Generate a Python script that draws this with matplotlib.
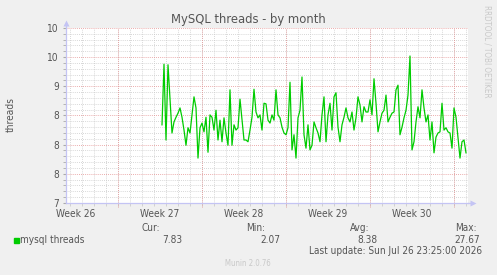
import numpy as np
import matplotlib.pyplot as plt
from matplotlib.ticker import MultipleLocator, FixedLocator

plt.rcParams["font.family"] = "DejaVu Sans"
plt.rcParams["font.stretch"] = "condensed"

# days are counted from the start of week 27
weeks = ["Week 26", "Week 27", "Week 28", "Week 29", "Week 30"]
week_mid = [-3.5, 3.5, 10.5, 17.5, 24.5]
week_start = [0, 7, 14, 21, 28]
y_ticks = [7, 7.5, 8, 8.5, 9, 9.5, 10]
y_labels = ["7", "8", "8", "8", "9", "10", "10"]

threads = [
    8.34, 9.38, 8.08, 9.37, 8.77, 8.20, 8.39, 8.47, 8.54, 8.63, 8.47, 8.25,
    7.99, 8.29, 8.20, 8.51, 8.82, 8.63, 7.77, 8.29, 8.37, 8.22, 8.47, 7.87,
    8.51, 8.47, 8.25, 8.59, 8.08, 8.42, 8.05, 8.46, 8.20, 7.99, 8.94, 7.99,
    8.34,
    8.25, 8.29, 8.78, 8.42, 8.08, 8.08, 8.05, 8.25, 8.47, 8.95, 8.56, 8.46,
    8.51, 8.25, 8.71, 8.70, 8.42, 8.37, 8.51, 8.42, 8.94, 8.51, 8.46, 8.30,
    8.20, 8.17, 8.29, 9.07, 7.91, 8.17, 7.77, 8.46, 8.59, 9.16, 8.17, 7.94,
    8.34,
    7.91, 7.99, 8.39, 8.29, 8.20, 8.05, 8.51, 8.82, 8.05, 8.51, 8.71, 8.25,
    8.82, 8.89, 8.30, 8.05, 8.34, 8.47, 8.63, 8.46, 8.39, 8.56, 8.25, 8.46,
    8.82, 8.68, 8.39, 8.65, 8.56, 8.56, 8.77, 8.51, 9.13, 8.71, 8.22, 8.39,
    8.54, 8.59,
    8.85, 8.39, 8.47, 8.54, 8.56, 8.94, 9.02, 8.17, 8.30, 8.46, 8.59, 8.85,
    9.52, 7.91, 8.05, 8.39, 8.65, 8.46, 8.94, 8.63, 8.39, 8.51, 8.08, 8.39,
    7.86, 8.13, 8.20, 8.22, 8.71, 8.25, 8.29, 8.22, 8.20, 7.94, 8.63, 8.47,
    8.11, 7.77, 8.05, 8.08, 7.86,
]
t_first = 3.67      # first sample, days
t_step = 1 / 6      # one sample every 4 hours

stat_names = ["Cur:", "Min:", "Avg:", "Max:"]
stat_values = ["7.83", "2.07", "8.38", "27.67"]

W, H = 497, 275
txt = "#555555"
fig = plt.figure(figsize=(W / 100, H / 100), dpi=100, facecolor="#F0F0F0")
ax = fig.add_axes([66 / W, 1 - 203 / H, (468 - 66) / W, (203 - 28) / H])
ax.set_facecolor("white")

t = t_first + t_step * np.arange(len(threads))
ax.plot(t, threads, color="#00CC00", lw=0.9, zorder=3)

ax.set_xlim(-4.33, 29.17)
ax.set_ylim(7, 10)

ax.yaxis.set_major_locator(FixedLocator(y_ticks))
ax.set_yticklabels(y_labels)
ax.yaxis.set_minor_locator(MultipleLocator(0.1))
ax.set_xticks(week_mid, weeks)
ax.xaxis.set_minor_locator(MultipleLocator(1))

dots = (0, (1, 1.5))
ax.grid(which="minor", color="#CACACA", linestyle=dots, lw=0.6)
ax.grid(axis="y", which="major", color="#E49090", linestyle=dots, lw=0.6)
for w in week_start:
    ax.axvline(w, ymin=-0.02, ymax=1, color="#E49090", linestyle=dots, lw=0.6, clip_on=False)

for s in ["top", "right"]:
    ax.spines[s].set_visible(False)
for s in ["left", "bottom"]:
    ax.spines[s].set_color("#C4C4F4")
    ax.spines[s].set_linewidth(0.9)
ax.plot([0, 0], [1, 1.025], color="#C4C4F4", lw=0.9, transform=ax.transAxes, clip_on=False)
ax.plot(0, 1.03, marker="^", ms=4, color="#C4C4F4", mec="none", transform=ax.transAxes, clip_on=False)
ax.plot([1, 1.008], [0, 0], color="#C4C4F4", lw=0.9, transform=ax.transAxes, clip_on=False)
ax.plot(1.012, 0, marker=">", ms=4, color="#C4C4F4", mec="none", transform=ax.transAxes, clip_on=False)

ax.tick_params(axis="y", which="both", length=2, color="#AAAAAA", labelsize=7.3, labelcolor=txt, pad=3)
ax.tick_params(axis="x", which="major", length=0, labelsize=7.3, labelcolor=txt, pad=4)
ax.tick_params(axis="x", which="minor", length=2, color="#CCCCCC")

fig.text(248 / W, 1 - 19 / H, "MySQL threads - by month", ha="center", va="center", fontsize=9.3, color=txt)
fig.text(11 / W, 1 - 115 / H, "threads", rotation=90, ha="center", va="center", fontsize=7.3, color=txt)
fig.text(487 / W, 1 - 51 / H, "RRDTOOL / TOBI OETIKER", rotation=270, ha="center", va="center",
         fontsize=5.8, color="#C8C8C8")

fig.patches.append(plt.Rectangle((14 / W, 1 - 243 / H), 5 / W, 5 / H, transform=fig.transFigure,
                                 color="#00CC00", figure=fig))
fig.text(20 / W, 1 - 240 / H, "mysql threads", ha="left", va="center", fontsize=7.2, color=txt)
name_right = [160, 265, 369, 477]
value_right = [182, 280, 378, 480]
for n, v, xn, xv in zip(stat_names, stat_values, name_right, value_right):
    fig.text(xn / W, 1 - 228 / H, n, ha="right", va="center", fontsize=7.2, color=txt)
    fig.text(xv / W, 1 - 240 / H, v, ha="right", va="center", fontsize=7.2, color=txt)
fig.text(482 / W, 1 - 251 / H, "Last update: Sun Jul 26 23:25:00 2026", ha="right", va="center",
         fontsize=7.2, color=txt)
fig.text(248 / W, 1 - 263 / H, "Munin 2.0.76", ha="center", va="center", fontsize=5.6, color="#C8C8C8")

fig.savefig("out.png", dpi=100, facecolor=fig.get_facecolor())
